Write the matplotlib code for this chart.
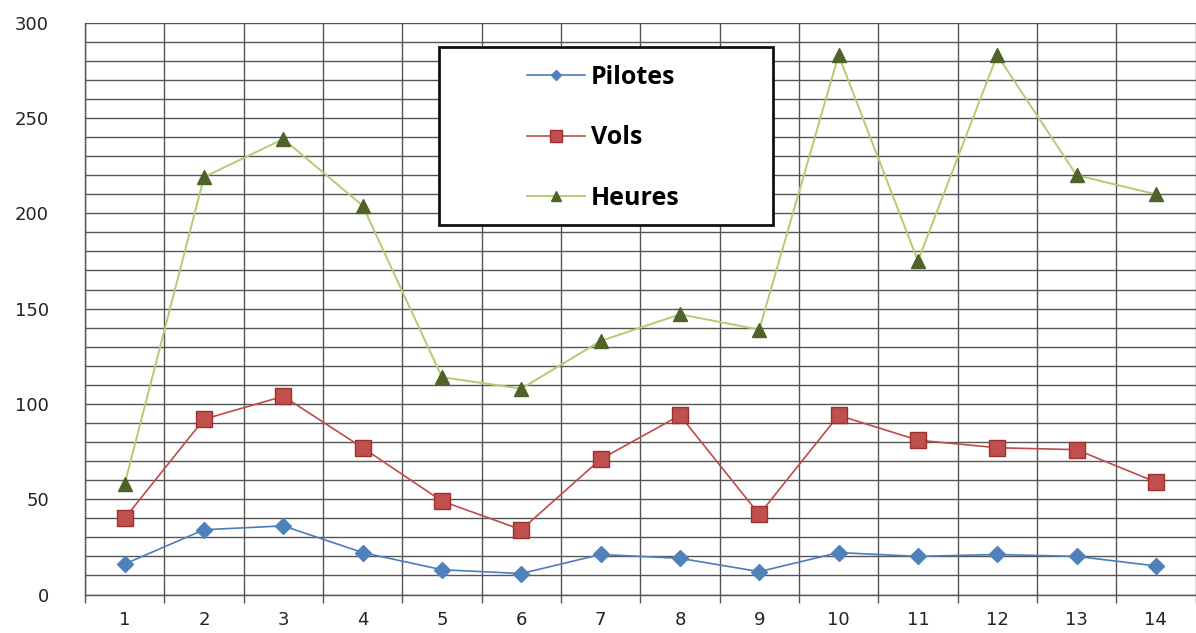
import matplotlib.pyplot as plt
from matplotlib.ticker import MultipleLocator, FixedLocator
from matplotlib.patches import Rectangle
import numpy as np

# monthly counts per group
categories = list(range(1, 15))
pilotes = [16, 34, 36, 22, 13, 11, 21, 19, 12, 22, 20, 21, 20, 15]
vols = [40, 92, 104, 77, 49, 34, 71, 94, 42, 94, 81, 77, 76, 59]
heures = [58, 219, 239, 204, 114, 108, 133, 147, 139, 283, 175, 283, 220, 210]

fig = plt.figure(figsize=(11.96, 6.33), dpi=100)
ax = fig.add_axes([0.0711, 0.0608, 0.9285, 0.9033])

grid_col = '#555555'

ax.plot(categories, pilotes, color='#4A7EBB', lw=1.2, marker='D', ms=8,
        mfc='#4F81BD', mec='#4F81BD', label='Pilotes', zorder=3)
ax.plot(categories, vols, color='#BE4B48', lw=1.2, marker='s', ms=12,
        mfc='#C0504D', mec='#A0302D', label='Vols', zorder=3)
ax.plot(categories, heures, color='#B3CC70', lw=1.4, marker='^', ms=10,
        mfc='#4F6228', mec='#4F6228', label='Heures', zorder=3)

ax.set_xlim(0.5, 14.5)
ax.set_ylim(0, 300)

ax.xaxis.set_major_locator(FixedLocator(categories))
ax.xaxis.set_minor_locator(FixedLocator(np.arange(0.5, 15, 1)))
ax.yaxis.set_major_locator(MultipleLocator(50))
ax.yaxis.set_minor_locator(MultipleLocator(10))

# vertical lines only between categories, horizontal every 10
ax.grid(which='minor', axis='x', color=grid_col, lw=1.0)
ax.grid(which='both', axis='y', color=grid_col, lw=1.0)
ax.set_axisbelow(True)

ax.tick_params(axis='x', which='major', length=0, pad=12, labelsize=13,
               labelcolor='#222222')
ax.tick_params(axis='x', which='minor', length=6, direction='out',
               color=grid_col, width=1.0)
ax.tick_params(axis='y', which='both', length=0, pad=26, labelsize=13,
               labelcolor='#222222')

for side in ['top', 'right']:
    ax.spines[side].set_visible(False)
for side in ['left', 'bottom']:
    ax.spines[side].set_color(grid_col)
    ax.spines[side].set_linewidth(1.0)

# legend box drawn separately so it can be wider than its content
box = Rectangle((439 / 1196, 1 - 225 / 633), 334 / 1196, 178 / 633,
                transform=fig.transFigure, facecolor='white',
                edgecolor='#111111', lw=2.0, zorder=5)
fig.add_artist(box)

leg = fig.legend(loc='upper left', bbox_to_anchor=(527 / 1196, 1 - 65 / 633),
                 frameon=False, prop={'family': 'Open Sans', 'weight': 'bold', 'size': 18},
                 labelspacing=1.42, handlelength=2.3, handletextpad=0.25,
                 borderpad=0, borderaxespad=0, markerscale=0.7)
leg.set_zorder(6)

fig.savefig('out.png', dpi=100)
